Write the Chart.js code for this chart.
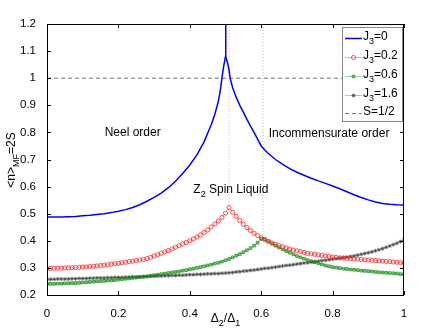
<!DOCTYPE html>
<html>
<head>
<meta charset="utf-8">
<script src="https://cdn.jsdelivr.net/npm/chart.js@4.4.1/dist/chart.umd.min.js"></script>
<style>
  body { margin: 0; background: #fff; }
  canvas { display: block; }
</style>
</head>
<body>
<canvas id="chart" width="436" height="332"></canvas>
<script>
// values
var xTicks = [0, 0.2, 0.4, 0.6, 0.8, 1];
var xTickLabels = ['0', '0.2', '0.4', '0.6', '0.8', '1'];
var yTicks = [0.2, 0.3, 0.4, 0.5, 0.6, 0.7, 0.8, 0.9, 1, 1.1, 1.2];
var yTickLabels = ['0.2', '0.3', '0.4', '0.5', '0.6', '0.7', '0.8', '0.9', '1', '1.1', '1.2'];

var seriesNames = ['J3=0', 'J3=0.2', 'J3=0.6', 'J3=1.6', 'S=1/2'];

// J3=0 (solid blue)
var blueX = [0, .02, .04, .06, .08, .10, .12, .14, .16, .18, .20, .22, .24, .26, .28, .30, .32, .34, .36, .38,
  .40, .42, .44, .46, .47, .48, .485, .49, .495, .50, .5005, .501, .505, .51, .513, .52, .53, .54, .55,
  .56, .57, .58, .59, .60, .61, .62, .64, .66, .68, .70, .72, .74, .76, .78, .80, .82, .84, .86, .88, .90,
  .92, .94, .96, .98, 1];
var blueY = [.488, .488, .488, .489, .490, .492, .494, .497, .500, .504, .509, .515, .523, .533, .546, .560, .576, .596, .620, .648,
  .680, .717, .765, .828, .866, .915, .950, 1.0, 1.045, 1.08, 1.6, 1.08, 1.06, 1.03, 1.0, .965, .93, .90, .875,
  .848, .823, .800, .775, .750, .735, .722, .700, .682, .666, .653, .642, .631, .621, .612, .602, .592, .581, .570, .560, .551,
  .543, .538, .535, .533, .532];

// common grid for the marker series
var xGrid = [0, .01, .02, .03, .04, .05, .06, .07, .08, .09,
  .10, .11, .12, .13, .14, .15, .16, .17, .18, .19,
  .20, .21, .22, .23, .24, .25, .26, .27, .28, .29,
  .30, .31, .32, .33, .34, .35, .36, .37, .38, .39,
  .40, .41, .42, .43, .44, .45, .46, .47, .48, .49,
  .50, .51, .52, .53, .54, .55, .56, .57, .58, .59,
  .60, .61, .62, .63, .64, .65, .66, .67, .68, .69,
  .70, .71, .72, .73, .74, .75, .76, .77, .78, .79,
  .80, .81, .82, .83, .84, .85, .86, .87, .88, .89,
  .90, .91, .92, .93, .94, .95, .96, .97, .98, .99, 1];

// J3=0.2 (red circles)
var redY = [.298, .298, .298, .299, .299, .300, .300, .301, .301, .302,
  .303, .304, .305, .306, .307, .309, .310, .312, .314, .316,
  .317, .319, .321, .323, .325, .327, .329, .331, .334, .339,
  .344, .349, .354, .359, .364, .370, .376, .382, .388, .394,
  .400, .407, .414, .422, .431, .440, .451, .462, .473, .486,
  .502, .522, .505, .490, .475, .461, .449, .438, .428, .419,
  .411, .404, .398, .392, .387, .382, .378, .374, .370, .366,
  .363, .360, .357, .354, .352, .350, .348, .346, .344, .342,
  .340, .339, .337, .336, .335, .334, .333, .332, .331, .330,
  .329, .328, .327, .326, .325, .324, .323, .322, .321, .320, .319];

// J3=0.6 (green squares)
var greenY = [.241, .241, .241, .242, .242, .243, .243, .244, .244, .245,
  .246, .247, .248, .249, .250, .251, .252, .253, .254, .255,
  .257, .258, .260, .261, .263, .264, .266, .267, .269, .271,
  .273, .275, .277, .279, .281, .283, .285, .287, .290, .292,
  .295, .297, .300, .303, .306, .309, .312, .316, .319, .323,
  .328, .333, .339, .345, .351, .358, .365, .373, .382, .393,
  .407, .406, .398, .390, .382, .375, .368, .362, .356, .350,
  .344, .339, .334, .329, .325, .321, .317, .313, .309, .306,
  .303, .301, .299, .297, .296, .294, .293, .292, .290, .289,
  .288, .287, .285, .284, .283, .282, .281, .280, .279, .277, .276];

// J3=1.6 (gray stars)
var grayY = [.258, .258, .258, .259, .259, .259, .259, .260, .260, .261,
  .261, .261, .262, .262, .263, .263, .263, .264, .264, .265,
  .265, .265, .266, .266, .267, .267, .267, .268, .268, .269,
  .269, .270, .270, .271, .271, .272, .272, .273, .273, .274,
  .275, .275, .276, .276, .277, .278, .278, .279, .279, .280,
  .281, .282, .283, .285, .286, .288, .289, .291, .292, .294,
  .296, .298, .299, .301, .303, .305, .307, .309, .310, .312,
  .314, .316, .318, .319, .321, .323, .325, .327, .328, .330,
  .332, .334, .336, .338, .340, .342, .344, .347, .350, .353,
  .356, .359, .363, .367, .371, .376, .381, .386, .391, .397, .403];

// S=1/2 reference level
var halfX = [0, 1];
var halfY = [1, 1];

// phase boundaries (dotted verticals)
var boundRedX = [0.51, 0.51];
var boundRedY = [1.2, 0.522];
var boundGreenX = [0.605, 0.605];
var boundGreenY = [1.2, 0.409];

var FONT = '"Liberation Sans", Arial, Helvetica, sans-serif';

function pts(xs, ys) {
  return xs.map(function (x, i) { return { x: x, y: ys[i] }; });
}

// text with subscripts: parts = [[text, isSub], ...]
function subWidth(ctx, parts, size) {
  var w = 0;
  parts.forEach(function (p) {
    ctx.font = (p[1] ? size * 0.75 : size) + 'px ' + FONT;
    w += ctx.measureText(p[0]).width;
  });
  return w;
}
function drawSub(ctx, parts, x, y, size, align) {
  var w = subWidth(ctx, parts, size);
  var cx = align === 'center' ? x - w / 2 : x;
  ctx.textAlign = 'left';
  ctx.textBaseline = 'alphabetic';
  parts.forEach(function (p) {
    ctx.font = (p[1] ? size * 0.75 : size) + 'px ' + FONT;
    ctx.fillText(p[0], cx, p[1] ? y + size * 0.3 : y);
    cx += ctx.measureText(p[0]).width;
  });
}

var decor = {
  id: 'decor',
  afterDraw: function (chart) {
    var ctx = chart.ctx, a = chart.chartArea;
    var xs = chart.scales.x, ys = chart.scales.y;
    ctx.save();
    // box + inward ticks
    ctx.strokeStyle = '#000';
    ctx.lineWidth = 1;
    ctx.strokeRect(a.left + 0.5, a.top + 0.5, a.right - a.left - 1, a.bottom - a.top);
    ctx.beginPath();
    xTicks.forEach(function (v) {
      var px = Math.round(xs.getPixelForValue(v)) + 0.5;
      ctx.moveTo(px, a.bottom); ctx.lineTo(px, a.bottom - 4);
      ctx.moveTo(px, a.top); ctx.lineTo(px, a.top + 4);
    });
    yTicks.forEach(function (v) {
      var py = Math.round(ys.getPixelForValue(v)) + 0.5;
      ctx.moveTo(a.left, py); ctx.lineTo(a.left + 4, py);
      ctx.moveTo(a.right, py); ctx.lineTo(a.right - 4, py);
    });
    ctx.stroke();

    ctx.fillStyle = '#000';
    // region labels
    ctx.font = '12px ' + FONT;
    ctx.textAlign = 'center';
    ctx.textBaseline = 'middle';
    ctx.fillText('Neel order', xs.getPixelForValue(0.24), ys.getPixelForValue(0.80));
    ctx.fillText('Incommensurate order', xs.getPixelForValue(0.79), ys.getPixelForValue(0.795));
    drawSub(ctx, [['Z', false], ['2', true], [' Spin Liquid', false]],
      xs.getPixelForValue(0.515), ys.getPixelForValue(0.591) + 4, 12, 'center');

    // axis titles
    drawSub(ctx, [['\u0394', false], ['2', true], ['/\u0394', false], ['1', true]],
      (a.left + a.right) / 2, 322, 12, 'center');
    ctx.save();
    ctx.translate(15, 160);
    ctx.rotate(-Math.PI / 2);
    drawSub(ctx, [['<n>', false], ['MF', true], ['=2S', false]], 0, 0, 12, 'center');
    ctx.restore();

    // legend
    var lx = 342, ly = 27, lw = 60, lh = 94;
    ctx.fillStyle = '#fff';
    ctx.fillRect(lx, ly, lw, lh);
    ctx.strokeStyle = '#888';
    ctx.strokeRect(lx + 0.5, ly + 0.5, lw, lh);
    var rows = [38, 57, 76, 95, 113];
    chart.data.datasets.forEach(function (ds, i) {
      if (i > 4) return;
      var y = rows[i];
      ctx.save();
      ctx.strokeStyle = ds.legendColor;
      ctx.lineWidth = ds.legendWidth;
      ctx.setLineDash(ds.borderDash || []);
      ctx.beginPath();
      ctx.moveTo(lx + 3, y + 0.5); ctx.lineTo(lx + 20, y + 0.5);
      ctx.stroke();
      ctx.restore();
      if (ds.pointRadius > 0) {
        ctx.save();
        ctx.strokeStyle = ds.pointBorderColor;
        ctx.fillStyle = ds.pointBackgroundColor;
        ctx.lineWidth = ds.pointBorderWidth;
        Chart.helpers.drawPoint(ctx, {
          pointStyle: ds.pointStyle, radius: ds.pointRadius, borderWidth: ds.pointBorderWidth
        }, lx + 11.5, y + 0.5);
        ctx.restore();
      }
      ctx.fillStyle = '#000';
      var name = seriesNames[i];
      var parts = name.indexOf('J3') === 0 ? [['J', false], ['3', true], [name.slice(2), false]] : [[name, false]];
      drawSub(ctx, parts, lx + 21, y + 2, 12, 'left');
    });
    ctx.restore();
  }
};

var ctx = document.getElementById('chart');
var chart = new Chart(ctx, {
  type: 'line',
  data: {
    datasets: [{
      label: seriesNames[0],
      data: pts(blueX, blueY),
      borderColor: '#0000ff',
      legendColor: '#0000ff',
      legendWidth: 1.5,
      borderWidth: 1.5,
      pointRadius: 0,
      tension: 0
    }, {
      label: seriesNames[1],
      data: pts(xGrid, redY),
      borderColor: 'rgba(255,60,60,0.6)',
      legendColor: 'rgba(255,60,60,0.6)',
      legendWidth: 0.8,
      borderWidth: 0.6,
      pointStyle: 'circle',
      pointRadius: 2.1,
      pointBorderWidth: 0.9,
      pointBorderColor: 'rgba(255,30,30,0.85)',
      pointBackgroundColor: 'rgba(255,255,255,0)'
    }, {
      label: seriesNames[2],
      data: pts(xGrid, greenY),
      borderColor: 'rgba(0,128,0,0.7)',
      legendColor: 'rgba(30,160,30,0.55)',
      legendWidth: 0.8,
      borderWidth: 0.6,
      pointStyle: 'rect',
      pointRadius: 1.9,
      pointBorderWidth: 0.9,
      pointBorderColor: 'rgba(0,128,0,0.75)',
      pointBackgroundColor: 'rgba(40,150,40,0.35)'
    }, {
      label: seriesNames[3],
      data: pts(xGrid, grayY),
      borderColor: 'rgba(80,80,80,0.75)',
      legendColor: 'rgba(120,120,120,0.6)',
      legendWidth: 0.8,
      borderWidth: 0.7,
      pointStyle: 'star',
      pointRadius: 2,
      pointBorderWidth: 0.9,
      pointBorderColor: 'rgba(70,70,70,0.85)',
      pointBackgroundColor: 'rgba(70,70,70,0.85)'
    }, {
      label: seriesNames[4],
      data: pts(halfX, halfY),
      borderColor: '#777',
      legendColor: '#777',
      legendWidth: 1,
      borderWidth: 1,
      borderDash: [4, 3],
      pointRadius: 0
    }, {
      label: 'b1',
      data: pts(boundRedX, boundRedY),
      borderColor: 'rgba(255,140,140,0.8)',
      borderWidth: 1,
      borderDash: [1, 2],
      pointRadius: 0
    }, {
      label: 'b2',
      data: pts(boundGreenX, boundGreenY),
      borderColor: 'rgba(130,190,190,0.8)',
      borderWidth: 1,
      borderDash: [1, 2],
      pointRadius: 0
    }]
  },
  options: {
    responsive: false,
    animation: false,
    layout: { padding: { left: 0, top: 24, right: 32, bottom: 0 } },
    plugins: {
      legend: { display: false },
      tooltip: { enabled: false }
    },
    scales: {
      x: {
        type: 'linear',
        min: 0,
        max: 1,
        afterFit: function (s) { s.height = 37; },
        afterBuildTicks: function (s) { s.ticks = xTicks.map(function (v) { return { value: v }; }); },
        grid: { display: false },
        border: { display: false },
        ticks: {
          color: '#000',
          padding: 4,
          maxRotation: 0,
          font: { family: FONT, size: 11.5 },
          callback: function (v, i) { return xTickLabels[i]; }
        }
      },
      y: {
        min: 0.2,
        max: 1.2,
        afterFit: function (s) { s.width = 47; },
        afterBuildTicks: function (s) { s.ticks = yTicks.map(function (v) { return { value: v }; }); },
        grid: { display: false },
        border: { display: false },
        ticks: {
          color: '#000',
          padding: 3,
          font: { family: FONT, size: 11.5 },
          callback: function (v, i) { return yTickLabels[i]; }
        }
      }
    }
  },
  plugins: [decor]
});
</script>
</body>
</html>
